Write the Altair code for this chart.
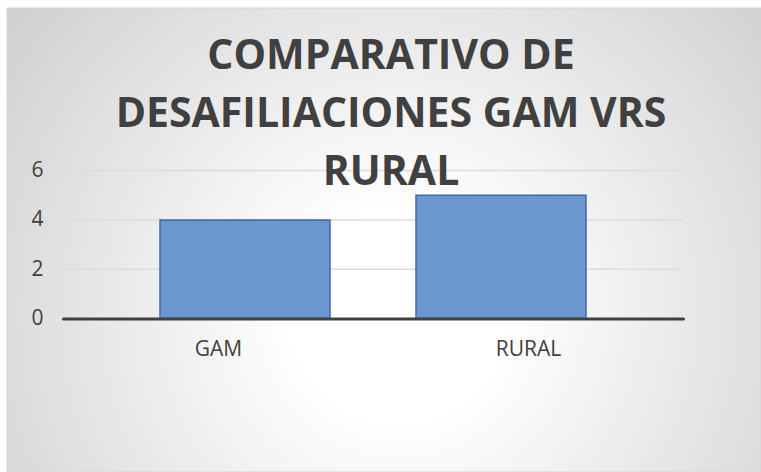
import altair as alt
import pandas as pd

# ---- data ----
categories = ["GAM", "RURAL"]
values = [4, 5]
y_ticks = [0, 2, 4, 6]
grid_values = [2, 4, 6]
title_lines = ["COMPARATIVO DE", "DESAFILIACIONES GAM VRS", "RURAL"]

bars_df = pd.DataFrame({"categoria": categories, "valor": values})
grid_df = pd.DataFrame({"valor": grid_values})
bg_df = pd.DataFrame({"k": [0]})

W, H = 754, 464
TEXT = "#404040"

y_scale = alt.Scale(domain=[-6.227, 12.596], nice=False, zero=False)
y_axis = alt.Axis(values=y_ticks, title=None, orient="left", offset=-40,
                  domain=False, ticks=False, grid=False, labelPadding=4,
                  labelFont="Open Sans", labelFontSize=21, labelColor=TEXT,
                  labelBaseline="middle", zindex=2)
y_enc = alt.Y("valor:Q", scale=y_scale, axis=y_axis)

gradient = alt.RadialGradient(
    gradient="radial",
    x1=0.52, y1=0.6, r1=0,
    x2=0.52, y2=0.6, r2=0.78,
    stops=[
        alt.GradientStop(offset=0.0, color="#ffffff"),
        alt.GradientStop(offset=0.18, color="#ffffff"),
        alt.GradientStop(offset=1.0, color="#c4c4c4"),
    ],
)

background = alt.Chart(bg_df).mark_rect(
    fill=gradient, stroke="#d4d4d4", strokeWidth=1
).encode(
    x=alt.value(0), x2=alt.value(W), y=alt.value(0), y2=alt.value(H)
)

grid = alt.Chart(grid_df).mark_rule(color="#dcdcdc", strokeWidth=1.5).encode(
    y=y_enc,
    x=alt.value(56),
    x2=alt.value(676),
)

bars = alt.Chart(bars_df).mark_bar(
    color="#6a97cf", stroke="#3e6aa5", strokeWidth=1.5
).encode(
    x=alt.X("categoria:N", sort=categories,
            scale=alt.Scale(range=[110, 622], paddingInner=0.336, paddingOuter=0.168),
            axis=None),
    y=y_enc,
)

axis_layer = alt.Chart(bars_df).mark_point(opacity=0).encode(
    x=alt.X("categoria:N", sort=categories,
            scale=alt.Scale(range=[56, 676], paddingInner=0.47, paddingOuter=0.235),
            axis=alt.Axis(title=None, orient="bottom", offset=-153.5,
                          domainColor=TEXT, domainWidth=3, domainCap="round",
                          ticks=False, tickSize=0, grid=False, labelAngle=0,
                          labelFont="Open Sans", labelFontSize=21, labelColor=TEXT,
                          labelPadding=37, labelBaseline="alphabetic", zindex=2)),
    y=y_enc,
)

chart = alt.layer(background, grid, bars, axis_layer).resolve_scale(
    x="independent"
).properties(
    width=W,
    height=H,
    padding={"left": 7, "top": 8, "right": 0, "bottom": 0},
    autosize=alt.AutoSizeParams(type="none"),
    title=alt.TitleParams(
        text=title_lines, font="Open Sans", fontSize=41, fontWeight="bold",
        color=TEXT, lineHeight=58, anchor="middle", baseline="top",
        dy=186, dx=7, offset=0, frame="group", zindex=3,
    ),
).configure(
    background="white",
).configure_view(
    stroke=None,
)

chart.save("out.html", embed_options={"renderer": "svg", "actions": False})
